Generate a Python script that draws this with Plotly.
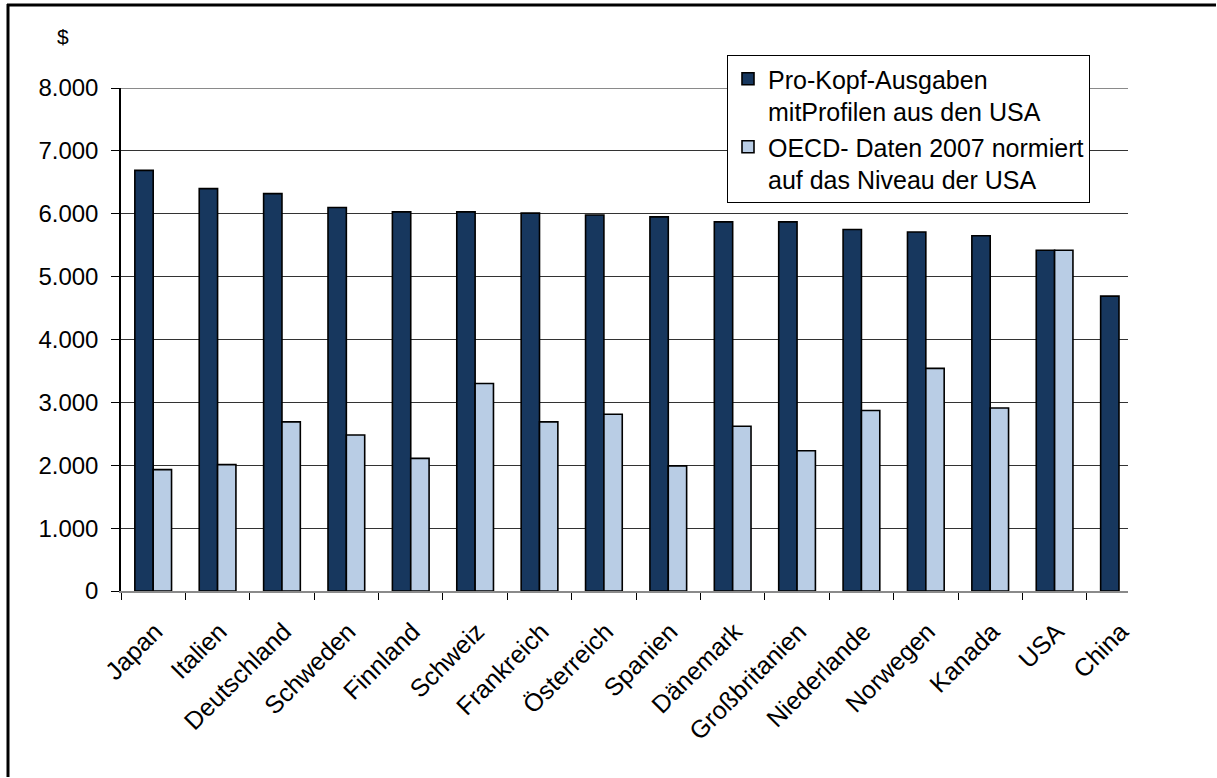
import plotly.graph_objects as go

# Länder und Werte (US-$ pro Kopf)
laender = ["Japan", "Italien", "Deutschland", "Schweden", "Finnland", "Schweiz",
           "Frankreich", "Österreich", "Spanien", "Dänemark", "Großbritanien",
           "Niederlande", "Norwegen", "Kanada", "USA", "China"]
pro_kopf_usa_profile = [6690, 6400, 6320, 6100, 6030, 6030, 6010, 5980, 5950,
                        5870, 5870, 5750, 5710, 5650, 5420, 4690]
oecd_2007_normiert = [1930, 2010, 2690, 2480, 2110, 3300, 2690, 2810, 1990,
                      2620, 2230, 2870, 3540, 2910, 5420, None]
y_ticks = [0, 1000, 2000, 3000, 4000, 5000, 6000, 7000, 8000]
y_tick_text = ["0", "1.000", "2.000", "3.000", "4.000", "5.000", "6.000", "7.000", "8.000"]

FONT = "Liberation Sans, Arial, sans-serif"
W, H = 1217, 778
L, R, T, B = 121, 89, 88, 187
pw, ph = W - L - R, H - T - B


def px_x(x):
    return (x - L) / pw


def px_y(y):
    return (H - B - y) / ph


fig = go.Figure()
fig.add_bar(x=laender, y=pro_kopf_usa_profile,
            name="Pro-Kopf-Ausgaben<br>mitProfilen aus den USA",
            marker=dict(color="#17375E", line=dict(color="#000000", width=1.6)))
fig.add_bar(x=laender, y=oecd_2007_normiert,
            name="OECD- Daten 2007 normiert<br>auf das Niveau der USA",
            marker=dict(color="#B9CDE5", line=dict(color="#000000", width=1.6)))

fig.update_layout(
    width=W, height=H,
    margin=dict(l=L, r=R, t=T, b=B, autoexpand=False),
    paper_bgcolor="white", plot_bgcolor="white",
    barmode="group", bargap=0.43, bargroupgap=0.0,
    font=dict(family=FONT, color="#000000", size=22),
    legend=dict(
        x=px_x(727), y=px_y(55), xanchor="left", yanchor="top",
        bgcolor="white", bordercolor="#000000", borderwidth=1,
        font=dict(family=FONT, size=25, color="#000000"),
        itemwidth=30, tracegroupgap=0, valign="top",
    ),
    xaxis=dict(
        type="category", range=[-0.5, 15.14], tickson="boundaries",
        ticks="outside", ticklen=7, tickcolor="#000000", tickwidth=1,
        tickangle=-45, ticklabelstandoff=14, ticklabelshift=2,
        showline=True, linecolor="#8a8a8a", linewidth=2,
        showgrid=False, tickfont=dict(family=FONT, size=25), fixedrange=True,
    ),
    yaxis=dict(
        range=[0, 8000], tickvals=y_ticks, ticktext=y_tick_text,
        ticks="outside", ticklen=8, tickcolor="#000000", tickwidth=1,
        ticklabelstandoff=8,
        showline=True, linecolor="#000000", linewidth=1.5,
        showgrid=True, gridcolor="#333333", gridwidth=1, zeroline=False,
        tickfont=dict(family=FONT, size=24), fixedrange=True,
    ),
    shapes=[
        # obere Begrenzung der Zeichenfläche
        dict(type="line", xref="paper", yref="y", x0=0, x1=1, y0=8000, y1=8000,
             line=dict(color="#8a8a8a", width=2), layer="below"),
        # Rahmen der Abbildung (oben und links)
        dict(type="line", xref="paper", yref="paper",
             x0=px_x(7), x1=px_x(W - 1), y0=px_y(5), y1=px_y(5),
             line=dict(color="#000000", width=3)),
        dict(type="line", xref="paper", yref="paper",
             x0=px_x(8), x1=px_x(8), y0=px_y(4), y1=px_y(H - 1),
             line=dict(color="#000000", width=3)),
    ],
    annotations=[
        dict(text="$", xref="paper", yref="paper", x=px_x(63), y=px_y(37),
             xanchor="center", yanchor="middle", showarrow=False,
             font=dict(family=FONT, size=21, color="#000000")),
    ],
)

fig.write_html("out.html")
